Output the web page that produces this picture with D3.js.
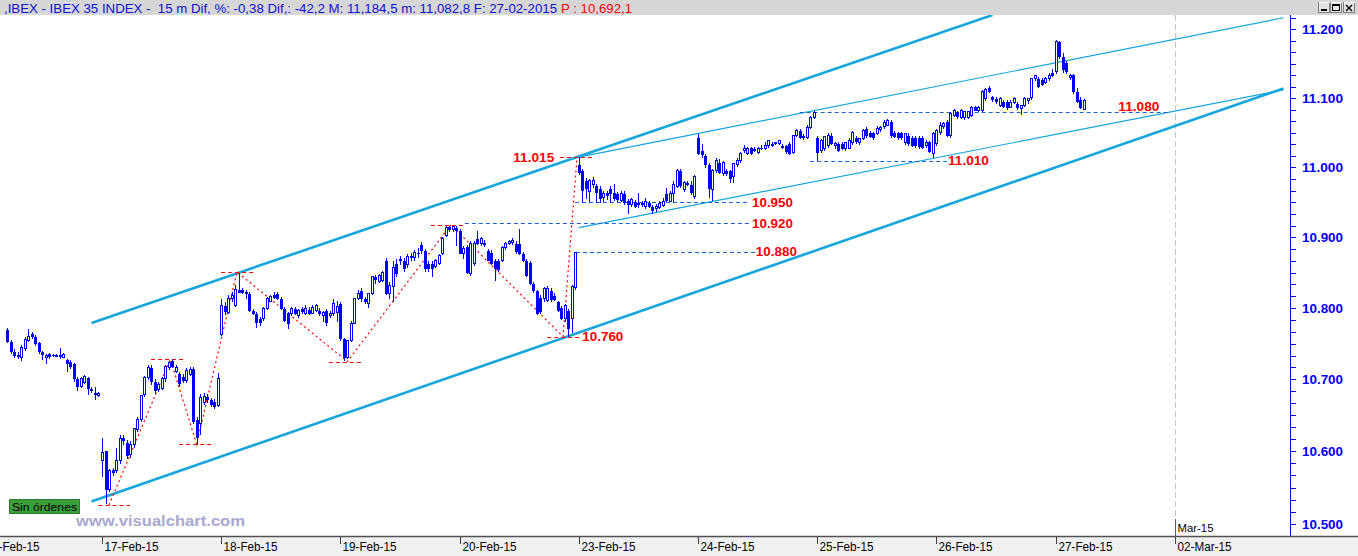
<!DOCTYPE html>
<html><head><meta charset="utf-8">
<script src="https://cdn.jsdelivr.net/npm/d3@7/dist/d3.min.js"></script>
<style>
html,body{margin:0;padding:0;background:#fff;overflow:hidden}
svg{display:block}
text{white-space:pre}
</style></head><body>
<svg id="chart" width="1358" height="556"></svg>
<script>
// ---------- DATA ----------
const dayLabels = ["16-Feb-15","17-Feb-15","18-Feb-15","19-Feb-15","20-Feb-15","23-Feb-15","24-Feb-15","25-Feb-15","26-Feb-15","27-Feb-15","02-Mar-15"];
const barsPerDay = 34;             // 15-minute bars per session
const yTicks = [10500,10600,10700,10800,10900,11000,11100,11200];
const headerTitle = ",IBEX - IBEX 35 INDEX -  15 m Dif, %: -0,38 Dif,: -42,2 M: 11,184,5 m: 11,082,8 F: 27-02-2015";
const headerPrice = "P : 10,692,1";

// OHLC per session [open, high, low, close]
const feb16 = [[10769,10772,10751,10753],[10753,10755,10735,10739],[10739,10743,10730,10733],[10734,10738,10728,10732],[10731,10748,10726,10744],[10743,10759,10740,10756],[10755,10771,10753,10760],[10763,10767,10757,10759],[10760,10762,10747,10750],[10751,10753,10735,10739],[10739,10740,10727,10734],[10730,10736,10722,10734],[10735,10737,10728,10732],[10734,10736,10731,10733],[10733,10735,10731,10734],[10734,10744,10728,10732],[10731,10737,10730,10735],[10727,10728,10710,10722],[10725,10727,10715,10717],[10721,10723,10697,10700],[10701,10704,10684,10690],[10690,10703,10688,10701],[10696,10706,10694,10704],[10702,10703,10678,10687],[10687,10690,10681,10684],[10681,10690,10671,10678],[10678,10682,10675,10680]];
const feb16FirstBar = 7;
const feb17 = [[10587,10618,10565,10599],[10600,10601,10527,10547],[10547,10576,10544,10573],[10574,10577,10566,10570],[10573,10604,10570,10587],[10587,10623,10583,10618],[10618,10622,10609,10614],[10612,10616,10590,10594],[10595,10614,10591,10610],[10609,10633,10604,10631],[10630,10647,10627,10644],[10644,10678,10640,10677],[10679,10705,10675,10702],[10702,10720,10699,10716],[10716,10720,10692,10696],[10696,10700,10680,10684],[10686,10696,10682,10693],[10687,10704,10685,10701],[10701,10720,10697,10718],[10716,10726,10713,10723],[10726,10728,10716,10718],[10711,10720,10709,10716],[10708,10710,10690,10694],[10703,10707,10695,10698],[10698,10716,10695,10713],[10707,10718,10705,10714],[10714,10717,10638,10640],[10644,10647,10609,10618],[10639,10679,10623,10675],[10668,10681,10665,10676],[10676,10679,10667,10671],[10671,10674,10661,10665],[10669,10673,10659,10661],[10664,10709,10661,10701]];
const feb18 = [[10763,10813,10761,10803],[10803,10808,10790,10794],[10794,10818,10792,10813],[10813,10823,10809,10818],[10804,10832,10802,10826],[10826,10849,10821,10822],[10826,10829,10820,10822],[10823,10826,10813,10820],[10820,10823,10794,10796],[10796,10799,10790,10792],[10792,10794,10772,10779],[10785,10787,10775,10779],[10785,10801,10782,10799],[10799,10815,10797,10813],[10810,10818,10808,10816],[10819,10823,10813,10814],[10820,10823,10811,10813],[10813,10815,10797,10799],[10799,10801,10780,10782],[10793,10795,10771,10778],[10792,10802,10789,10799],[10799,10801,10790,10792],[10789,10799,10786,10796],[10799,10802,10792,10794],[10792,10804,10790,10799],[10798,10802,10790,10792],[10793,10804,10791,10801],[10796,10806,10794,10803],[10796,10800,10789,10792],[10789,10796,10780,10794],[10796,10799,10775,10779],[10789,10796,10786,10793],[10792,10813,10789,10806],[10794,10810,10780,10802]];
const feb19 = [[10806,10809,10754,10756],[10756,10758,10726,10730],[10730,10754,10728,10754],[10754,10782,10752,10779],[10779,10813,10777,10813],[10813,10826,10811,10821],[10824,10829,10808,10813],[10813,10815,10806,10809],[10806,10821,10800,10820],[10820,10846,10818,10844],[10844,10847,10834,10839],[10838,10848,10836,10846],[10839,10852,10837,10850],[10867,10871,10818,10820],[10820,10837,10813,10832],[10831,10867,10808,10857],[10863,10869,10844,10848],[10867,10873,10861,10869],[10867,10871,10851,10855],[10861,10876,10857,10873],[10873,10878,10867,10871],[10871,10882,10866,10878],[10878,10885,10871,10876],[10889,10894,10876,10881],[10881,10884,10851,10855],[10863,10866,10851,10855],[10863,10866,10844,10855],[10859,10869,10856,10867],[10863,10876,10861,10874],[10877,10901,10875,10898],[10903,10916,10901,10914],[10915,10917,10908,10911],[10911,10917,10908,10915],[10914,10916,10888,10909]];
const feb20 = [[10909,10912,10876,10877],[10877,10888,10870,10884],[10886,10890,10848,10850],[10849,10895,10846,10892],[10863,10895,10859,10891],[10898,10909,10889,10891],[10891,10901,10888,10898],[10892,10897,10886,10889],[10881,10884,10866,10867],[10878,10882,10861,10863],[10867,10869,10838,10855],[10867,10870,10851,10854],[10867,10888,10865,10886],[10886,10894,10882,10892],[10892,10897,10889,10894],[10893,10899,10889,10895],[10891,10895,10876,10880],[10891,10912,10875,10877],[10877,10880,10865,10867],[10867,10870,10844,10846],[10864,10867,10832,10834],[10834,10837,10821,10824],[10824,10826,10790,10792],[10814,10818,10792,10794],[10813,10830,10808,10827],[10811,10831,10808,10827],[10824,10828,10808,10811],[10817,10821,10810,10811],[10808,10810,10794,10796],[10800,10803,10783,10785],[10785,10806,10780,10803],[10796,10799,10760,10771],[10786,10833,10765,10830],[10829,10880,10826,10878]];
const feb23 = [[11003,11015,10989,10992],[10995,10998,10949,10966],[10981,10985,10955,10969],[10966,10984,10949,10981],[10975,10986,10970,10982],[10973,10977,10949,10963],[10969,10973,10949,10955],[10957,10966,10951,10963],[10963,10967,10954,10959],[10969,10973,10949,10962],[10963,10976,10952,10955],[10962,10965,10951,10953],[10953,10966,10950,10963],[10962,10966,10946,10949],[10952,10955,10933,10947],[10947,10956,10944,10954],[10950,10953,10942,10944],[10949,10963,10942,10946],[10949,10952,10943,10946],[10944,10956,10941,10952],[10949,10952,10942,10944],[10944,10946,10933,10938],[10941,10948,10937,10944],[10943,10952,10941,10949],[10946,10956,10944,10952],[10962,10970,10951,10952],[10952,10966,10950,10963],[10963,10981,10949,10976],[10973,10998,10970,10995],[10995,10998,10970,10973],[10969,10981,10965,10978],[10978,10981,10973,10975],[10975,10980,10960,10963],[10958,10989,10955,10987]];
const feb24 = [[11042,11048,11018,11020],[11023,11034,11013,11018],[11017,11020,10999,11003],[11003,11006,10956,10969],[10969,10998,10952,10995],[10995,11013,10992,11010],[11007,11012,10990,10992],[10992,11009,10988,11007],[10995,10998,10988,10990],[10995,10997,10978,10984],[10987,11007,10978,11006],[11004,11013,11000,11010],[11010,11022,11006,11020],[11025,11032,11021,11027],[11020,11030,11018,11027],[11028,11030,11018,11020],[11027,11029,11022,11024],[11022,11030,11019,11028],[11028,11032,11025,11027],[11027,11036,11025,11031],[11031,11039,11028,11039],[11034,11037,11029,11031],[11036,11037,11032,11034],[11034,11039,11032,11039],[11031,11034,11026,11028],[11031,11033,11020,11022],[11034,11036,11018,11020],[11022,11046,11019,11046],[11046,11056,11044,11053],[11053,11055,11041,11043],[11045,11048,11040,11042],[11043,11061,11041,11058],[11058,11074,11055,11072],[11072,11081,11070,11079]];
const feb25 = [[11042,11045,11009,11021],[11024,11041,11021,11039],[11027,11046,11024,11044],[11031,11049,11028,11046],[11046,11049,11032,11034],[11031,11036,11026,11034],[11034,11037,11022,11024],[11034,11036,11025,11027],[11027,11037,11024,11036],[11028,11042,11026,11039],[11036,11053,11032,11050],[11042,11045,11034,11036],[11036,11042,11032,11042],[11042,11055,11040,11053],[11055,11058,11043,11046],[11050,11053,11042,11044],[11049,11051,11040,11042],[11049,11059,11047,11056],[11055,11059,11051,11058],[11059,11068,11056,11065],[11061,11070,11059,11068],[11065,11068,11043,11046],[11050,11053,11042,11044],[11049,11051,11040,11042],[11049,11051,11039,11042],[11036,11050,11032,11049],[11046,11049,11031,11034],[11043,11046,11030,11031],[11043,11046,11028,11031],[11042,11045,11027,11030],[11042,11045,11026,11028],[11031,11039,11028,11036],[11036,11038,11021,11022],[11020,11051,11013,11049]];
const feb26 = [[11034,11056,11031,11053],[11050,11065,11047,11060],[11059,11066,11056,11063],[11065,11068,11044,11046],[11046,11080,11043,11078],[11075,11084,11072,11082],[11080,11082,11070,11072],[11072,11084,11070,11082],[11072,11082,11068,11080],[11072,11081,11070,11080],[11075,11088,11072,11087],[11087,11089,11081,11082],[11082,11089,11080,11087],[11082,11112,11080,11110],[11099,11114,11096,11112],[11115,11118,11108,11109],[11101,11103,11095,11097],[11099,11101,11092,11094],[11089,11101,11087,11099],[11094,11097,11085,11087],[11094,11097,11083,11085],[11087,11097,11085,11094],[11094,11101,11092,11099],[11091,11094,11083,11085],[11085,11090,11075,11090],[11090,11101,11087,11099],[11096,11100,11091,11099],[11101,11129,11098,11128],[11128,11134,11125,11133],[11128,11131,11114,11116],[11126,11129,11117,11119],[11123,11131,11120,11129],[11128,11136,11125,11133],[11137,11142,11130,11132]];
const feb27 = [[11138,11184.5,11135,11182],[11181,11183,11157,11160],[11160,11165,11137,11141],[11151,11154,11135,11138],[11130,11135,11127,11133],[11133,11135,11106,11109],[11109,11114,11093,11094],[11097,11101,11084,11085],[11083,11099,11082.8,11097]];

const sessions = [feb16, feb17, feb18, feb19, feb20, feb23, feb24, feb25, feb26, feb27];
const sessionFirstBar = [feb16FirstBar,0,0,0,0,0,0,0,0,0];

// Trend lines: [[bar, price],[bar, price]]
const channelUpper = [[31,10779],[288,11221]];
const channelLower = [[31,10531],[371,11114]];
const innerUpper   = [[170,11015],[371,11217]];
const innerLower   = [[170,10914],[371,11112]];
// Red swing zigzag [bar, price]
const swingPath = [[36,10526],[53.5,10728],[61,10610],[72.5,10851],[104,10725],[133.5,10918],[165.5,10760],[169.5,11015]];
// Red swing markers [barFrom, barTo, price]
const swingMarks = [[33,42,10526],[48,57.4,10728],[56,65.4,10610],[68,77.3,10851],[98.7,108.2,10725],[127.8,137.5,10918],[161,170.3,10760],[164.6,174.3,11015]];
// Blue level lines [barFrom, barTo, price]
const levelLines = [[137.5,218.8,10920],[169.2,220.3,10880],[168.9,218,10950],[236,275,11010],[233,338.6,11080]];
// Level labels [text, bar, price, baselineAbove]
const levelLabels = [["11.015",151.3,11015,0],["10.950",219.4,10950,0],["10.920",219.4,10920,0],["10.880",220.5,10880,0],["10.760",171,10760,0],["11.010",275.3,11010,0],["11.080",323.9,11080,1]];

// ---------- DRAW ----------
const W=1358,H=556,PL=0,PR=1290,PT=15,PB=536;
const svg=d3.select('#chart');
const x=d3.scaleLinear().domain([0,340]).range([-17.2,1174.8]);
const y=d3.scaleLog().domain([10500,11200]).range([524,29.4]);
const sans='Liberation Sans, Arial, sans-serif';

svg.append('rect').attr('width',W).attr('height',H).attr('fill','#fff');
svg.append('defs').append('clipPath').attr('id','plotclip').append('rect')
  .attr('x',PL).attr('y',PT).attr('width',PR-PL).attr('height',PB-PT);
const plot=svg.append('g').attr('clip-path','url(#plotclip)');

// March separator
const marX=Math.round(x(10*barsPerDay))+0.5;
plot.append('line').attr('x1',marX).attr('x2',marX).attr('y1',PT).attr('y2',519)
  .attr('stroke','#c4c4c4').attr('stroke-dasharray','6,3');
plot.append('line').attr('x1',marX).attr('x2',marX).attr('y1',519).attr('y2',PB)
  .attr('stroke','#606060');
plot.append('text').attr('x',marX+2).attr('y',532).text('Mar-15')
  .attr('font-family',sans).attr('font-size',11.5).attr('fill','#000')
  .attr('textLength',36).attr('lengthAdjust','spacingAndGlyphs');

// trend lines
const lineGen=d3.line().x(d=>x(d[0])).y(d=>y(d[1]));
const cyan='#14a6dc';
[[channelUpper,2.6],[channelLower,2.6],[innerUpper,1.2],[innerLower,1.2]].forEach(([pts,w])=>{
  plot.append('path').attr('d',lineGen(pts)).attr('fill','none').attr('stroke',cyan).attr('stroke-width',w);
});

// blue level lines
levelLines.forEach(([a,b,v])=>{
  plot.append('line').attr('x1',x(a)).attr('x2',x(b)).attr('y1',Math.round(y(v))+0.5).attr('y2',Math.round(y(v))+0.5)
    .attr('stroke','#1a64d2').attr('stroke-width',1).attr('stroke-dasharray','4,3');
});
// red swing marks
swingMarks.forEach(([a,b,v])=>{
  plot.append('line').attr('x1',x(a)).attr('x2',x(b)).attr('y1',Math.round(y(v))+0.5).attr('y2',Math.round(y(v))+0.5)
    .attr('stroke','#ff0000').attr('stroke-width',1).attr('stroke-dasharray','4,3');
});
plot.append('path').attr('d',lineGen(swingPath)).attr('fill','none').attr('stroke','#ff0000')
  .attr('stroke-width',1.2).attr('stroke-dasharray','2,3');

// candles
const candles=[];
sessions.forEach((s,d)=>s.forEach((c,i)=>candles.push({g:d*barsPerDay+sessionFirstBar[d]+i,o:c[0],h:c[1],l:c[2],c:c[3]})));
const cg=plot.append('g').attr('shape-rendering','crispEdges');
const blue='#0000ff';
candles.forEach(c=>{
  const cx=Math.round(x(c.g))+0.5;
  cg.append('line').attr('x1',cx).attr('x2',cx).attr('y1',y(c.h)).attr('y2',y(c.l)).attr('stroke',blue);
  const top=y(Math.max(c.o,c.c)), bot=y(Math.min(c.o,c.c));
  if(c.c>=c.o){
    cg.append('rect').attr('x',cx-1).attr('width',2).attr('y',top).attr('height',Math.max(bot-top,1))
      .attr('fill','#fff').attr('stroke',blue).attr('stroke-width',1);
  } else {
    cg.append('rect').attr('x',cx-1.5).attr('width',3).attr('y',top).attr('height',Math.max(bot-top,1)).attr('fill',blue);
  }
});

// level labels
levelLabels.forEach(([t,g,v,above])=>{
  plot.append('text').attr('x',x(g)).attr('y',above? y(v)-1 : y(v)+4.6).text(t)
    .attr('font-family',sans).attr('font-weight','bold').attr('font-size',13)
    .attr('fill','#ff0000').attr('textLength',41).attr('lengthAdjust','spacingAndGlyphs');
});

// Sin ordenes box
svg.append('rect').attr('x',9.5).attr('y',499.5).attr('width',70).attr('height',14)
  .attr('fill','#3a9e3a').attr('stroke','#2c7c2c');
svg.append('text').attr('x',12).attr('y',510.5).text('Sin órdenes')
  .attr('font-family',sans).attr('font-size',11).attr('fill','#000')
  .attr('textLength',65).attr('lengthAdjust','spacingAndGlyphs');
// watermark
svg.append('text').attr('x',76).attr('y',526).text('www.visualchart.com')
  .attr('font-family',sans).attr('font-weight','bold').attr('font-size',15.5)
  .attr('fill','#a8a8d0').attr('textLength',169).attr('lengthAdjust','spacingAndGlyphs');

// right axis
const ax=svg.append('g').attr('shape-rendering','crispEdges');
ax.append('line').attr('x1',PR+0.5).attr('x2',PR+0.5).attr('y1',PT).attr('y2',PB).attr('stroke',blue);
const minor=[];
for(let i=-1;i<yTicks.length;i++){
  const base=yTicks[0]+i*100;
  for(let j=1;j<6;j++){const v=base+j*100/6; if(y(v)>PT+3&&y(v)<PB-2) minor.push(v);}
}
minor.concat(yTicks).forEach(v=>{
  const yy=Math.round(y(v))+0.5;
  ax.append('line').attr('x1',PR).attr('x2',PR+6).attr('y1',yy).attr('y2',yy).attr('stroke',blue);
});
yTicks.forEach(v=>{
  svg.append('text').attr('x',1302).attr('y',y(v)+4.7).text((v/1000).toFixed(3))
    .attr('font-family',sans).attr('font-weight','bold').attr('font-size',13)
    .attr('fill',blue).attr('textLength',41).attr('lengthAdjust','spacingAndGlyphs');
});

// bottom axis
svg.append('rect').attr('x',0).attr('y',PB+1).attr('width',W).attr('height',H-PB-1).attr('fill','#f0f0f0');
svg.append('line').attr('x1',0).attr('x2',W).attr('y1',PB+0.5).attr('y2',PB+0.5).attr('stroke','#505050').attr('stroke-width',1.5);
dayLabels.forEach((lab,d)=>{
  const tx=Math.round(x(d*barsPerDay))+0.5;
  svg.append('line').attr('x1',tx).attr('x2',tx).attr('y1',PB+1).attr('y2',PB+8).attr('stroke','#404040');
  svg.append('text').attr('x',tx+2).attr('y',550.5).text(lab)
    .attr('font-family',sans).attr('font-size',12).attr('fill','#000')
    .attr('textLength',54).attr('lengthAdjust','spacingAndGlyphs');
});

// header
svg.append('rect').attr('x',0).attr('y',0).attr('width',W).attr('height',PT).attr('fill','#d6d6d6');
svg.append('text').attr('x',4).attr('y',12.5).text(headerTitle)
  .attr('font-family',sans).attr('font-size',12).attr('fill','#1010d8')
  .attr('textLength',553).attr('lengthAdjust','spacingAndGlyphs');
svg.append('text').attr('x',561).attr('y',12.5).text(headerPrice)
  .attr('font-family',sans).attr('font-size',12).attr('fill','#ff0000')
  .attr('textLength',71).attr('lengthAdjust','spacingAndGlyphs');
// window buttons
const btn=svg.append('g').attr('shape-rendering','crispEdges');
[1318,1330,1343].forEach(bx=>{
  btn.append('rect').attr('x',bx+0.5).attr('y',2.5).attr('width',11).attr('height',10).attr('fill','#e4e4e4').attr('stroke','#808080');
  btn.append('line').attr('x1',bx+0.5).attr('x2',bx+11.5).attr('y1',2.5).attr('y2',2.5).attr('stroke','#fff');
});
btn.append('rect').attr('x',1321).attr('y',9).attr('width',6).attr('height',2).attr('fill','#000');
btn.append('rect').attr('x',1332.5).attr('y',4.5).attr('width',7).attr('height',6).attr('fill','none').attr('stroke','#000');
btn.append('line').attr('x1',1332.5).attr('x2',1339.5).attr('y1',5.5).attr('y2',5.5).attr('stroke','#000');
btn.append('path').attr('d','M1346,5 L1352,11 M1352,5 L1346,11').attr('stroke','#000').attr('stroke-width',1.4).attr('shape-rendering','auto');
</script>
</body></html>
